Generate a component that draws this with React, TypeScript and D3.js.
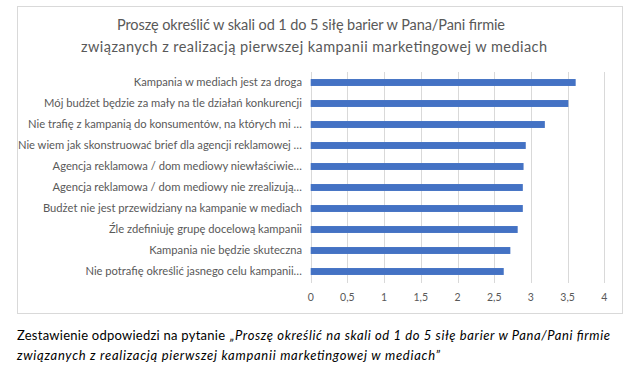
import React from "react";
import * as d3 from "d3";

const categories = [
  "Kampania w mediach jest za droga",
  "Mój budżet będzie za mały na tle działań konkurencji",
  "Nie trafię z kampanią do konsumentów, na których mi …",
  "Nie wiem jak skonstruować brief dla agencji reklamowej …",
  "Agencja reklamowa / dom mediowy niewłaściwie…",
  "Agencja reklamowa / dom mediowy nie zrealizują…",
  "Budżet nie jest przewidziany na kampanie w mediach",
  "Źle zdefiniuję grupę docelową kampanii",
  "Kampania nie będzie skuteczna",
  "Nie potrafię określić jasnego celu kampanii…",
];
const values = [3.61, 3.51, 3.19, 2.93, 2.9, 2.89, 2.89, 2.82, 2.72, 2.63];
const ticks = [0, 0.5, 1, 1.5, 2, 2.5, 3, 3.5, 4];
const titleLines = [
  "Proszę określić w skali od 1 do 5 siłę barier w Pana/Pani firmie",
  "związanych z realizacją pierwszej kampanii marketingowej w mediach",
];
const captionPrefix = "Zestawienie odpowiedzi na pytanie";
const captionItalic1 = "„Proszę określić na skali od 1 do 5 siłę barier w Pana/Pani firmie";
const captionItalic2 = "związanych z realizacją pierwszej kampanii marketingowej w mediach”";

const W = 628;
const H = 377;
const FONT = "Lato, 'Noto Sans', sans-serif";

export default function App() {
  const x = d3.scaleLinear().domain([0, 4]).range([310.7, 604.3]);
  const y = d3
    .scaleBand<string>()
    .domain(categories)
    .range([72, 282])
    .paddingInner(0.67)
    .paddingOuter(0.335);
  const fmt = (v: number) => String(v).replace(".", ",");
  const titleW = [388, 466];
  const titleCx = [311, 314];
  return (
    <svg
      width={W}
      height={H}
      style={{ position: "absolute", left: 0, top: 0, background: "#fff" }}
      fontFamily={FONT}
    >
      <rect x={17.5} y={6.5} width={605} height={307} fill="#fff" stroke="#d9d9d9" />
      {titleLines.map((t, i) => (
        <text
          key={i}
          x={titleCx[i]}
          y={30 + i * 22}
          textAnchor="middle"
          fontSize={14.5}
          fill="#595959"
          textLength={titleW[i]}
          lengthAdjust="spacing"
        >
          {t}
        </text>
      ))}
      {ticks.map((t) => (
        <line
          key={t}
          x1={Math.round(x(t)) + 0.5}
          x2={Math.round(x(t)) + 0.5}
          y1={72}
          y2={283}
          stroke="#d9d9d9"
        />
      ))}
      {categories.map((c, i) => (
        <rect
          key={c}
          x={x(0)}
          y={y(c)!}
          width={x(values[i]) - x(0)}
          height={y.bandwidth()}
          fill="#4472C4"
        />
      ))}
      {categories.map((c) => (
        <text
          key={c}
          x={302}
          y={y(c)! + y.bandwidth() / 2}
          dy="0.35em"
          textAnchor="end"
          fontSize={11.2}
          fill="#595959"
        >
          {c}
        </text>
      ))}
      {ticks.map((t) => (
        <text
          key={t}
          x={x(t)}
          y={297}
          dy="0.35em"
          textAnchor="middle"
          fontSize={10.5}
          fill="#595959"
        >
          {fmt(t)}
        </text>
      ))}
      <text x={17} y={340} fontSize={13} fill="#000" textLength={208} lengthAdjust="spacing">
        {captionPrefix}
      </text>
      <text
        x={230}
        y={340}
        fontSize={13}
        fill="#000"
        fontStyle="italic"
        textLength={380}
        lengthAdjust="spacing"
      >
        {captionItalic1}
      </text>
      <text
        x={17}
        y={360}
        fontSize={13}
        fill="#000"
        fontStyle="italic"
        textLength={423}
        lengthAdjust="spacing"
      >
        {captionItalic2}
      </text>
    </svg>
  );
}
